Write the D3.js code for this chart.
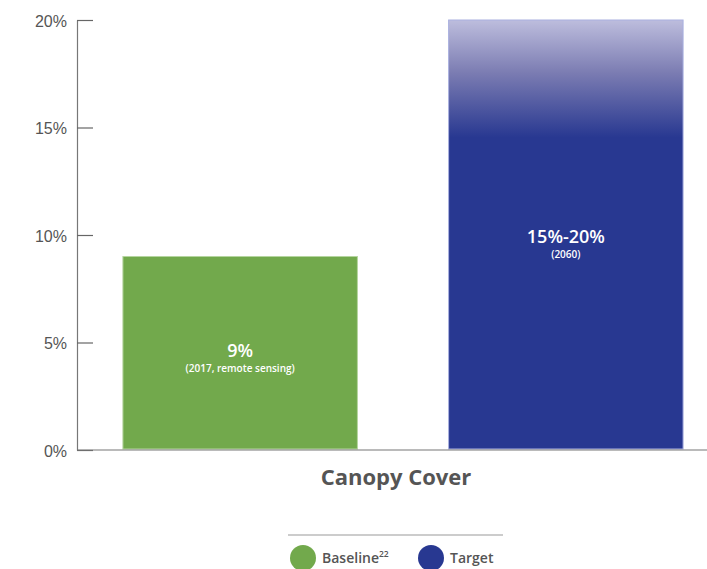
<!DOCTYPE html>
<html>
<head>
<meta charset="utf-8">
<script src="https://cdn.jsdelivr.net/npm/d3@7"></script>
<style>
  html, body { margin: 0; padding: 0; background: #fff; }
  svg { display: block; font-family: "Open Sans", "Noto Sans", sans-serif; }
</style>
</head>
<body>
<svg id="chart" width="707" height="569"></svg>
<script>
// Canopy cover: current baseline vs. 2060 target range
const categories = ["Baseline", "Target"];
const lowValues = [9, 15];     // percent
const highValues = [9, 20];    // percent
const valueLabels = ["9%", "15%-20%"];
const noteLabels = ["(2017, remote sensing)", "(2060)"];
const yTicks = [0, 5, 10, 15, 20];
const legendLabels = ["Baseline", "Target"];
const legendSup = ["22", ""];
const axisTitle = "Canopy Cover";

const colors = { Baseline: "#72a94c", Target: "#283891" };
const borders = { Baseline: "#b5d59f", Target: "#aab0e0" };

const svg = d3.select("#chart");

const y = d3.scaleLinear().domain([0, 20]).range([450, 20]);
const x = d3.scaleBand().domain(categories).range([77, 729])
  .paddingInner(0.28).paddingOuter(0.141);

// Fade for the upper part of the target range
const defs = svg.append("defs");
const grad = defs.append("linearGradient")
  .attr("id", "targetFade")
  .attr("gradientUnits", "userSpaceOnUse")
  .attr("x1", 0).attr("x2", 0)
  .attr("y1", y(highValues[1])).attr("y2", y(lowValues[1]) + 10);
grad.append("stop").attr("offset", 0).attr("stop-color", "#bdbddd");
grad.append("stop").attr("offset", 0.45).attr("stop-color", "#7b7cb2");
grad.append("stop").attr("offset", 1).attr("stop-color", "#283891");

// Y axis
const yAxis = d3.axisLeft(y).tickValues(yTicks).tickFormat(d => d + "%")
  .tickSize(0).tickPadding(10);
const gy = svg.append("g").attr("transform", "translate(77,0)").call(yAxis);
gy.select(".domain").attr("stroke", "#777").attr("stroke-width", 1.2);
gy.selectAll(".tick text")
  .attr("fill", "#555").attr("font-size", 16).attr("font-weight", 500)
  .attr("dy", "0.4em");
gy.selectAll(".tick").append("line")
  .attr("x1", 0).attr("x2", 16).attr("y1", 0).attr("y2", 0)
  .attr("stroke", "#666").attr("stroke-width", 1.2);

// Bars
const data = categories.map((c, i) => ({
  cat: c, low: lowValues[i], high: highValues[i],
  label: valueLabels[i], note: noteLabels[i]
}));

svg.append("g").selectAll("rect").data(data).join("rect")
  .attr("x", d => x(d.cat))
  .attr("y", d => y(d.high))
  .attr("width", x.bandwidth())
  .attr("height", d => y(0) - y(d.high) - 1)
  .attr("fill", d => d.cat === "Target" ? "url(#targetFade)" : colors[d.cat])
  .attr("stroke", d => borders[d.cat])
  .attr("stroke-width", 1);

// Baseline rule
svg.append("line")
  .attr("x1", 77).attr("x2", 707).attr("y1", y(0)).attr("y2", y(0))
  .attr("stroke", "#777").attr("stroke-width", 1.2);

// Bar labels
const labelY = [y(9) + 100, y(10) + 8];
const lab = svg.append("g").selectAll("g").data(data).join("g")
  .attr("transform", (d, i) => `translate(${x(d.cat) + x.bandwidth() / 2},${labelY[i]})`);
lab.append("text").text(d => d.label)
  .attr("text-anchor", "middle").attr("fill", "#fff")
  .attr("font-size", 18).attr("font-weight", 600);
lab.append("text").text(d => d.note)
  .attr("text-anchor", "middle").attr("fill", "#fff")
  .attr("font-size", 10).attr("font-weight", 600).attr("y", 15);

// Category title
svg.append("text").text(axisTitle)
  .attr("x", 396).attr("y", 485)
  .attr("text-anchor", "middle").attr("fill", "#555")
  .attr("font-size", 22).attr("font-weight", 700);

// Legend
svg.append("line")
  .attr("x1", 288).attr("x2", 503).attr("y1", 535).attr("y2", 535)
  .attr("stroke", "#999").attr("stroke-width", 1.2);

const legendX = [303, 431];
const lg = svg.append("g").selectAll("g").data(legendLabels).join("g")
  .attr("transform", (d, i) => `translate(${legendX[i]},558)`);
lg.append("circle").attr("r", 13).attr("fill", d => colors[d]);
const lt = lg.append("text").attr("x", 19).attr("y", 5)
  .attr("fill", "#555").attr("font-size", 14).attr("font-weight", 600);
lt.append("tspan").text(d => d);
lt.append("tspan").text((d, i) => legendSup[i])
  .attr("font-size", 8.5).attr("dy", -6);
</script>
</body>
</html>
